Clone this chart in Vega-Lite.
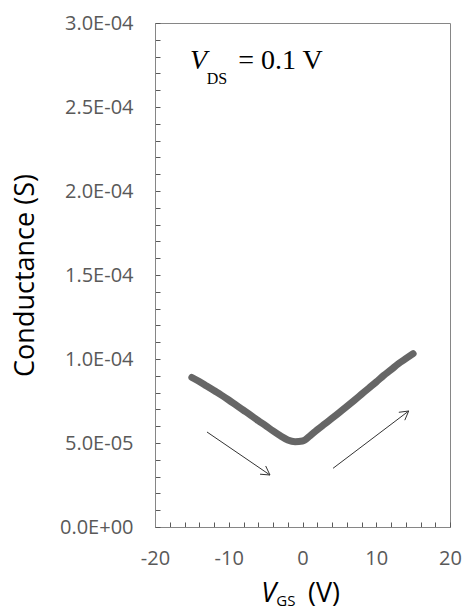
{
  "$schema": "https://vega.github.io/schema/vega-lite/v6.json",
  "autosize": "none",
  "width": 295,
  "height": 504,
  "padding": {"left": 155, "top": 23, "right": 14, "bottom": 82},
  "background": "white",
  "config": {
    "view": {"stroke": "#868686", "strokeWidth": 1},
    "axis": {"grid": false}
  },
  "datasets": {
    "curve": [
      {"x": -15, "y": 8.90e-5}, {"x": -14, "y": 8.66e-5}, {"x": -13, "y": 8.39e-5},
      {"x": -12, "y": 8.12e-5}, {"x": -11, "y": 7.85e-5}, {"x": -10, "y": 7.56e-5},
      {"x": -9, "y": 7.25e-5}, {"x": -8, "y": 6.95e-5}, {"x": -7, "y": 6.65e-5},
      {"x": -6, "y": 6.33e-5}, {"x": -5, "y": 6.03e-5}, {"x": -4, "y": 5.72e-5},
      {"x": -3, "y": 5.43e-5}, {"x": -2, "y": 5.18e-5}, {"x": -1, "y": 5.08e-5},
      {"x": 0, "y": 5.12e-5}, {"x": 1, "y": 5.42e-5}, {"x": 2, "y": 5.79e-5},
      {"x": 3, "y": 6.13e-5}, {"x": 4, "y": 6.47e-5}, {"x": 5, "y": 6.82e-5},
      {"x": 6, "y": 7.17e-5}, {"x": 7, "y": 7.53e-5}, {"x": 8, "y": 7.90e-5},
      {"x": 9, "y": 8.27e-5}, {"x": 10, "y": 8.63e-5}, {"x": 11, "y": 9.02e-5},
      {"x": 12, "y": 9.36e-5}, {"x": 13, "y": 9.72e-5}, {"x": 14, "y": 1.002e-4},
      {"x": 15, "y": 1.032e-4}
    ],
    "arrows": [
      {"x": -12.95, "y": 5.655e-5, "x2": -4.41, "y2": 3.095e-5},
      {"x": -4.41, "y": 3.095e-5, "x2": -4.99, "y2": 3.631e-5},
      {"x": -4.41, "y": 3.095e-5, "x2": -5.76, "y2": 3.143e-5},
      {"x": 4.14, "y": 3.494e-5, "x2": 14.4, "y2": 6.904e-5},
      {"x": 14.4, "y": 6.904e-5, "x2": 13.06, "y2": 6.827e-5},
      {"x": 14.4, "y": 6.904e-5, "x2": 13.87, "y2": 6.357e-5}
    ],
    "texts": [
      {"id": "annV", "text": "V", "x": -15.25, "y": 2.726e-4},
      {"id": "annSub", "text": "DS", "x": -12.99, "y": 2.637e-4},
      {"id": "annRest", "text": "= 0.1 V", "x": -8.71, "y": 2.726e-4},
      {"id": "xtV", "text": "V", "x": -5.6, "y": -4.45e-5},
      {"id": "xtSub", "text": "GS", "x": -3.55, "y": -4.72e-5},
      {"id": "xtRest", "text": "(V)", "x": 0.75, "y": -4.45e-5}
    ]
  },
  "encoding": {
    "x": {
      "field": "x", "type": "quantitative",
      "scale": {"domain": [-20, 20], "nice": false, "zero": false},
      "axis": {
        "title": null,
        "values": [-20,-18,-16,-14,-12,-10,-8,-6,-4,-2,0,2,4,6,8,10,12,14,16,18,20],
        "labelExpr": "abs(datum.value) % 10 == 0 ? ('' + datum.value) : ''",
        "labelFont": "Open Sans", "labelFontSize": 20, "labelColor": "#595959",
        "labelFlush": false, "labelOverlap": false, "labelBound": false,
        "labelPadding": 26,
        "tickSize": -5, "tickColor": "#595959", "tickWidth": 1,
        "domainColor": "#868686", "domainWidth": 1
      }
    },
    "y": {
      "field": "y", "type": "quantitative",
      "scale": {"domain": [0, 0.0003], "nice": false, "zero": false},
      "axis": {
        "title": "Conductance (S)",
        "titleFont": "Open Sans", "titleFontSize": 27, "titleFontWeight": "normal", "titleColor": "#000000",
        "titlePadding": 20,
        "values": [0,1e-5,2e-5,3e-5,4e-5,5e-5,6e-5,7e-5,8e-5,9e-5,1e-4,1.1e-4,1.2e-4,1.3e-4,1.4e-4,1.5e-4,1.6e-4,1.7e-4,1.8e-4,1.9e-4,2e-4,2.1e-4,2.2e-4,2.3e-4,2.4e-4,2.5e-4,2.6e-4,2.7e-4,2.8e-4,2.9e-4,3e-4],
        "labelExpr": "abs(datum.value * 20000 - round(datum.value * 20000)) < 0.001 ? ['0.0E+00','5.0E-05','1.0E-04','1.5E-04','2.0E-04','2.5E-04','3.0E-04'][round(datum.value * 20000)] : ''",
        "labelFont": "Open Sans", "labelFontSize": 20, "labelColor": "#595959",
        "labelFlush": false, "labelOverlap": false, "labelBound": false,
        "labelPadding": 27,
        "tickSize": -5, "tickColor": "#595959", "tickWidth": 1,
        "domainColor": "#868686", "domainWidth": 1
      }
    }
  },
  "layer": [
    {
      "data": {"name": "curve"},
      "mark": {"type": "line", "color": "#666666", "strokeWidth": 7, "strokeCap": "round", "strokeJoin": "round", "interpolate": "monotone"}
    },
    {
      "data": {"name": "arrows"},
      "mark": {"type": "rule", "color": "#333333", "strokeWidth": 1},
      "encoding": {"x2": {"field": "x2"}, "y2": {"field": "y2"}}
    },
    {
      "data": {"name": "texts"},
      "transform": [{"filter": "datum.id == 'annV'"}],
      "mark": {"type": "text", "font": "Liberation Serif", "fontSize": 28, "fontStyle": "italic", "align": "left", "baseline": "alphabetic", "color": "#000000"},
      "encoding": {"text": {"field": "text"}}
    },
    {
      "data": {"name": "texts"},
      "transform": [{"filter": "datum.id == 'annSub'"}],
      "mark": {"type": "text", "font": "Liberation Serif", "fontSize": 16, "align": "left", "baseline": "alphabetic", "color": "#000000"},
      "encoding": {"text": {"field": "text"}}
    },
    {
      "data": {"name": "texts"},
      "transform": [{"filter": "datum.id == 'annRest'"}],
      "mark": {"type": "text", "font": "Liberation Serif", "fontSize": 28, "align": "left", "baseline": "alphabetic", "color": "#000000"},
      "encoding": {"text": {"field": "text"}}
    },
    {
      "data": {"name": "texts"},
      "transform": [{"filter": "datum.id == 'xtV'"}],
      "mark": {"type": "text", "font": "Open Sans", "fontSize": 27, "fontStyle": "italic", "align": "left", "baseline": "alphabetic", "color": "#000000"},
      "encoding": {"text": {"field": "text"}}
    },
    {
      "data": {"name": "texts"},
      "transform": [{"filter": "datum.id == 'xtSub'"}],
      "mark": {"type": "text", "font": "Open Sans", "fontSize": 15, "align": "left", "baseline": "alphabetic", "color": "#000000"},
      "encoding": {"text": {"field": "text"}}
    },
    {
      "data": {"name": "texts"},
      "transform": [{"filter": "datum.id == 'xtRest'"}],
      "mark": {"type": "text", "font": "Open Sans", "fontSize": 27, "align": "left", "baseline": "alphabetic", "color": "#000000"},
      "encoding": {"text": {"field": "text"}}
    }
  ]
}
